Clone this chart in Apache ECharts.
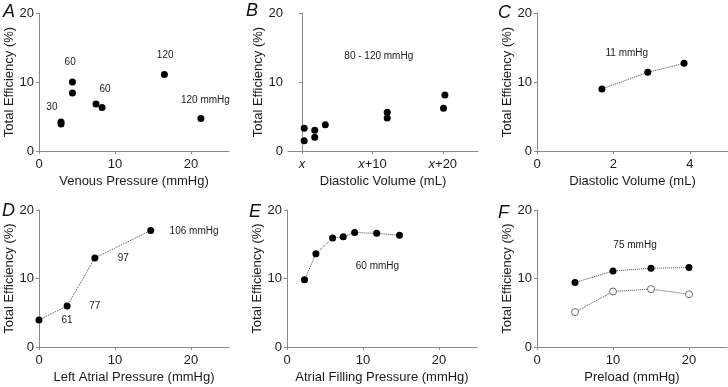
<!DOCTYPE html>
<html>
<head>
<meta charset="utf-8">
<script src="https://cdn.jsdelivr.net/npm/echarts@6/dist/echarts.min.js"></script>
<style>
  html, body { margin: 0; padding: 0; background: #fff; }
  #chart { width: 728px; height: 387px; }
</style>
</head>
<body>
<div id="chart"></div>
<script>
// panel A: venous pressure vs total efficiency
const venousPoints = [[2.9, 4.2], [2.9, 3.9], [4.4, 10.0], [4.4, 8.4], [7.5, 6.8], [8.3, 6.3], [16.5, 11.1], [21.3, 4.7]];
const venousNotes = [[1.7, 6.4, '30'], [4.1, 12.9, '60'], [8.7, 8.9, '60'], [16.6, 13.9, '120'], [21.9, 7.3, '120 mmHg']];

// panel B: diastolic volume offsets from x
const volumePoints = [[0.3, 3.3], [0.3, 1.5], [1.8, 3.0], [1.8, 2.0], [3.3, 3.8], [12.1, 5.6], [12.1, 4.8], [20.3, 8.1], [20.1, 6.2]];
const volumeNotes = [[10.9, 13.7, '80 - 120 mmHg']];
const volumeTicks = [0, 10, 20];
const volumeTickLabels = ['{i|x}', '{i|x}+10', '{i|x}+20'];

// panel C
const smallVolumePoints = [[1.7, 9.0], [2.9, 11.4], [3.85, 12.7]];
const smallVolumeNotes = [[2.35, 14.2, '11 mmHg']];

// panel D
const leftAtrialPoints = [[0, 3.95], [3.7, 6.0], [7.35, 13.0], [14.7, 17.0]];
const leftAtrialNotes = [[3.7, 3.85, '61'], [7.35, 5.9, '77'], [11.1, 12.9, '97'], [20.4, 16.9, '106 mmHg']];

// panel E
const fillingPoints = [[2.3, 9.8], [3.8, 13.6], [6.0, 15.9], [7.4, 16.1], [8.9, 16.7], [11.8, 16.6], [14.8, 16.3]];
const fillingNotes = [[11.9, 11.85, '60 mmHg']];

// panel F
const preloadFilled = [[5, 9.4], [10, 11.1], [15, 11.5], [20, 11.6]];
const preloadOpen = [[5, 5.1], [10, 8.1], [15, 8.45], [20, 7.7]];
const preloadNotes = [[12.9, 14.8, '75 mmHg']];

const panelLetters = ['A', 'B', 'C', 'D', 'E', 'F'];
const xNames = ['Venous Pressure (mmHg)', 'Diastolic Volume (mL)', 'Diastolic Volume (mL)',
  'Left Atrial Pressure (mmHg)', 'Atrial Filling Pressure (mmHg)', 'Preload (mmHg)'];

const font = 'Liberation Sans, Arial, sans-serif';
const axisGray = '#8a8a8a';
const textColor = '#1a1a1a';

const grids = [
  { left: 39, top: 13, width: 190, height: 138 },
  { left: 288, top: 13, width: 190, height: 138 },
  { left: 537, top: 13, width: 191, height: 138 },
  { left: 39, top: 210, width: 190, height: 137 },
  { left: 287, top: 210, width: 190, height: 137 },
  { left: 537, top: 210, width: 190, height: 137 }
];

const letterPos = [[3, 3], [246, 2], [498, 4], [2, 202], [249, 203], [498, 204]];

function xAxisFor(i, min, max, ticks, labelFmt) {
  return {
    type: 'value',
    gridIndex: i,
    min: min,
    max: max,
    name: xNames[i],
    nameLocation: 'middle',
    nameGap: 24,
    nameTextStyle: { color: textColor, fontFamily: font, fontSize: 13 },
    axisLine: { lineStyle: { color: axisGray, width: 1 } },
    axisTick: { show: true, length: 3, customValues: ticks, lineStyle: { color: axisGray } },
    axisLabel: {
      customValues: ticks,
      color: textColor,
      fontFamily: font,
      fontSize: 13,
      margin: 7,
      formatter: labelFmt,
      rich: { i: { fontStyle: 'italic', fontFamily: font, fontSize: 13, color: textColor } }
    },
    splitLine: { show: false }
  };
}

function yAxisFor(i) {
  return {
    type: 'value',
    gridIndex: i,
    min: 0,
    max: 20,
    interval: 10,
    name: 'Total Efficiency (%)',
    nameLocation: 'middle',
    nameGap: 22,
    nameTextStyle: { color: textColor, fontFamily: font, fontSize: 13 },
    axisLine: { show: true, lineStyle: { color: axisGray, width: 1 } },
    axisTick: { show: true, length: 3, lineStyle: { color: axisGray } },
    axisLabel: { color: textColor, fontFamily: font, fontSize: 13, margin: 5 },
    splitLine: { show: false }
  };
}

function dots(i, data) {
  return {
    type: 'scatter',
    xAxisIndex: i,
    yAxisIndex: i,
    data: data,
    symbol: 'circle',
    symbolSize: 7,
    itemStyle: { color: '#000', opacity: 1 },
    silent: true
  };
}

function dottedLine(i, data, open) {
  return {
    type: 'line',
    xAxisIndex: i,
    yAxisIndex: i,
    data: data,
    symbol: 'circle',
    symbolSize: 7,
    showSymbol: true,
    itemStyle: open
      ? { color: '#fff', borderColor: '#6a6a6a', borderWidth: 1, opacity: 1 }
      : { color: '#000', opacity: 1 },
    lineStyle: { color: '#444', width: 1, type: 'dotted' },
    silent: true
  };
}

function notes(i, items) {
  return {
    type: 'scatter',
    xAxisIndex: i,
    yAxisIndex: i,
    symbolSize: 0,
    itemStyle: { opacity: 1 },
    data: items.map(n => ({ value: [n[0], n[1]], name: n[2] })),
    label: {
      show: true,
      position: 'inside',
      formatter: '{b}',
      color: textColor,
      fontFamily: font,
      fontSize: 10
    },
    silent: true
  };
}

const chart = echarts.init(document.getElementById('chart'));

chart.setOption({
  animation: false,
  backgroundColor: '#fff',
  grid: grids,
  title: panelLetters.map((t, i) => ({
    text: t,
    left: letterPos[i][0],
    top: letterPos[i][1],
    padding: 0,
    textStyle: { fontFamily: font, fontSize: 18, fontStyle: 'italic', fontWeight: 'normal', color: '#111' }
  })),
  xAxis: [
    xAxisFor(0, 0, 25, [0, 10, 20]),
    xAxisFor(1, -2, 25, volumeTicks, function (v) {
      return volumeTickLabels[volumeTicks.indexOf(v)] || '';
    }),
    xAxisFor(2, 0, 5, [0, 2, 4]),
    xAxisFor(3, 0, 25, [0, 10, 20]),
    xAxisFor(4, 0, 25, [0, 10, 20]),
    xAxisFor(5, 0, 25, [0, 10, 20])
  ],
  yAxis: [0, 1, 2, 3, 4, 5].map(yAxisFor),
  series: [
    dots(0, venousPoints),
    notes(0, venousNotes),
    dots(1, volumePoints),
    notes(1, volumeNotes),
    dottedLine(2, smallVolumePoints),
    notes(2, smallVolumeNotes),
    dottedLine(3, leftAtrialPoints),
    notes(3, leftAtrialNotes),
    dottedLine(4, fillingPoints),
    notes(4, fillingNotes),
    dottedLine(5, preloadFilled),
    dottedLine(5, preloadOpen, true),
    notes(5, preloadNotes)
  ]
});
</script>
</body>
</html>
